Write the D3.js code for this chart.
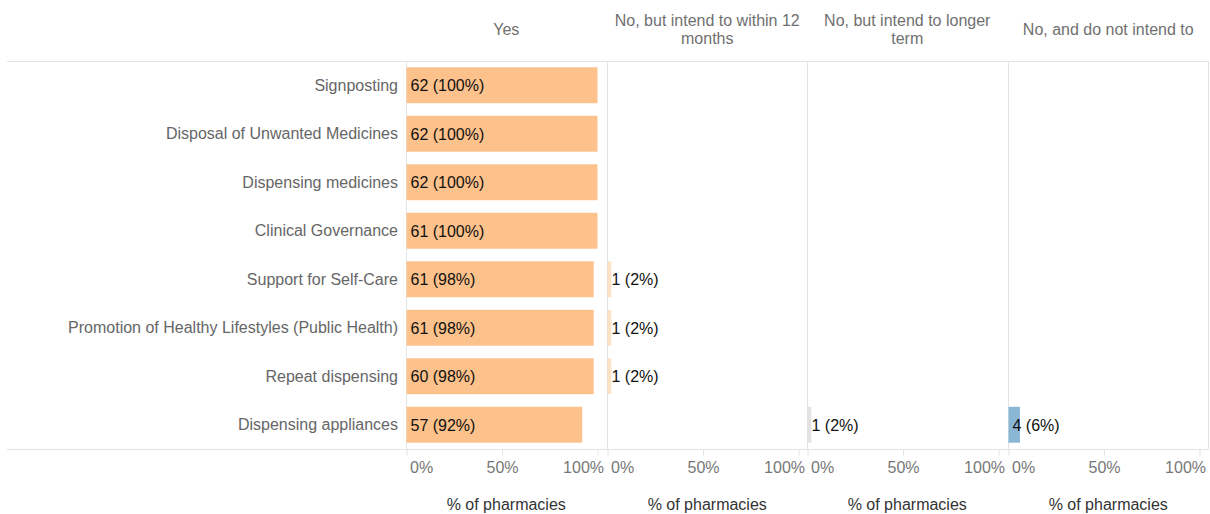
<!DOCTYPE html>
<html>
<head>
<meta charset="utf-8">
<script src="https://cdn.jsdelivr.net/npm/d3@7/dist/d3.min.js"></script>
<style>
  html, body { margin: 0; padding: 0; background: #fff; }
  svg { display: block; font-family: "Liberation Sans", Arial, sans-serif; }
</style>
</head>
<body>
<svg id="chart" width="1210" height="514"></svg>
<script>
// Pharmacy services: how many pharmacies provide each service, split by response
const services = [
  "Signposting",
  "Disposal of Unwanted Medicines",
  "Dispensing medicines",
  "Clinical Governance",
  "Support for Self-Care",
  "Promotion of Healthy Lifestyles (Public Health)",
  "Repeat dispensing",
  "Dispensing appliances"
];
const responses = [
  "Yes",
  "No, but intend to within 12 months",
  "No, but intend to longer term",
  "No, and do not intend to"
];
// counts and percentages per response (null = no pharmacies)
const yesCount       = [62, 62, 62, 61, 61, 61, 60, 57];
const yesPct         = [100, 100, 100, 100, 98, 98, 98, 92];
const within12Count  = [null, null, null, null, 1, 1, 1, null];
const within12Pct    = [null, null, null, null, 2, 2, 2, null];
const longerCount    = [null, null, null, null, null, null, null, 1];
const longerPct      = [null, null, null, null, null, null, null, 2];
const notIntendCount = [null, null, null, null, null, null, null, 4];
const notIntendPct   = [null, null, null, null, null, null, null, 6];
const xTicks = [0, 50, 100];
const axisTitle = "% of pharmacies";

const counts = [yesCount, within12Count, longerCount, notIntendCount];
const pcts = [yesPct, within12Pct, longerPct, notIntendPct];
const colors = ["#FDC18B", "#FDE2C6", "#E2E2E2", "#8AB7D6"];

const svg = d3.select("#chart");
const plotTop = 61, plotBottom = 449;
const plotLeft = 406, plotRight = 1208;
const panelW = (plotRight - plotLeft) / responses.length;
const barSpan = 191;
const lineColor = "#E3E3E3";
const fs = 16;

const y = d3.scaleBand()
  .domain(services)
  .range([plotTop, plotBottom])
  .paddingInner(0.26)
  .paddingOuter(0.13);

const panelX = d3.scaleBand()
  .domain(responses)
  .range([plotLeft, plotRight]);

// frame lines
svg.append("line")
  .attr("x1", 7).attr("x2", plotRight).attr("y1", plotTop + 0.5).attr("y2", plotTop + 0.5)
  .attr("stroke", lineColor);
svg.append("line")
  .attr("x1", 7).attr("x2", plotRight).attr("y1", plotBottom + 0.5).attr("y2", plotBottom + 0.5)
  .attr("stroke", lineColor);

// row labels
svg.append("g").selectAll("text")
  .data(services)
  .join("text")
  .attr("x", plotLeft - 8)
  .attr("y", d => y(d) + y.bandwidth() / 2)
  .attr("dy", "0.35em")
  .attr("text-anchor", "end")
  .attr("font-size", fs)
  .attr("fill", "#666")
  .text(d => d);

responses.forEach((resp, i) => {
  const x0 = Math.round(panelX(resp));
  const x = d3.scaleLinear().domain([0, 100]).range([x0 + 0.5, x0 + 0.5 + barSpan]);
  const g = svg.append("g");

  // panel divider lines
  g.append("line")
    .attr("x1", x0 + 0.5).attr("x2", x0 + 0.5)
    .attr("y1", plotTop).attr("y2", plotBottom)
    .attr("stroke", lineColor);
  if (i === responses.length - 1) {
    g.append("line")
      .attr("x1", plotRight + 0.5).attr("x2", plotRight + 0.5)
      .attr("y1", plotTop).attr("y2", plotBottom)
      .attr("stroke", lineColor);
  }

  // header (wrapped to panel width)
  const header = g.append("text")
    .attr("text-anchor", "middle")
    .attr("font-size", fs)
    .attr("fill", "#707070");
  const words = resp.split(" ");
  const lines = [];
  let cur = [];
  const probe = svg.append("text").attr("font-size", fs);
  words.forEach(w => {
    const test = cur.concat([w]).join(" ");
    probe.text(test);
    if (probe.node().getComputedTextLength() > panelW - 6 && cur.length) {
      lines.push(cur.join(" "));
      cur = [w];
    } else {
      cur.push(w);
    }
  });
  lines.push(cur.join(" "));
  probe.remove();
  const lh = 18;
  const cx = x0 + panelW / 2;
  lines.forEach((ln, k) => {
    header.append("tspan")
      .attr("x", cx)
      .attr("y", 29 - (lines.length - 1) * lh / 2 + k * lh)
      .attr("dy", "0.35em")
      .text(ln);
  });

  // bars
  const rows = services.map((s, j) => ({ s, c: counts[i][j], p: pcts[i][j] }))
    .filter(d => d.c != null);
  g.selectAll("rect")
    .data(rows)
    .join("rect")
    .attr("x", x(0))
    .attr("y", d => y(d.s))
    .attr("width", d => x(d.p) - x(0))
    .attr("height", y.bandwidth())
    .attr("fill", colors[i]);

  // value labels
  g.selectAll("text.val")
    .data(rows)
    .join("text")
    .attr("class", "val")
    .attr("x", x(0) + 4)
    .attr("y", d => y(d.s) + y.bandwidth() / 2)
    .attr("dy", "0.36em")
    .attr("font-size", fs)
    .attr("fill", "#111")
    .text(d => `${d.c} (${d.p}%)`);

  // axis
  const axis = d3.axisBottom(x)
    .tickValues(xTicks)
    .tickSize(6)
    .tickSizeOuter(0)
    .tickFormat(d => d + "%");
  const ax = g.append("g")
    .attr("transform", `translate(0,${plotBottom + 0.5})`)
    .call(axis);
  ax.select(".domain").remove();
  ax.selectAll(".tick line").attr("stroke", lineColor);
  ax.selectAll(".tick text")
    .attr("font-family", "Liberation Sans, Arial, sans-serif")
    .attr("font-size", fs)
    .attr("fill", "#777")
    .attr("y", 12)
    .attr("text-anchor", (d, k) => k === 0 ? "start" : (k === xTicks.length - 1 ? "end" : "middle"))
    .attr("dx", (d, k) => k === 0 ? 3 : (k === xTicks.length - 1 ? 6 : 0));

  // axis title
  g.append("text")
    .attr("x", cx)
    .attr("y", 510)
    .attr("text-anchor", "middle")
    .attr("font-size", fs)
    .attr("fill", "#333")
    .text(axisTitle);
});
</script>
</body>
</html>
